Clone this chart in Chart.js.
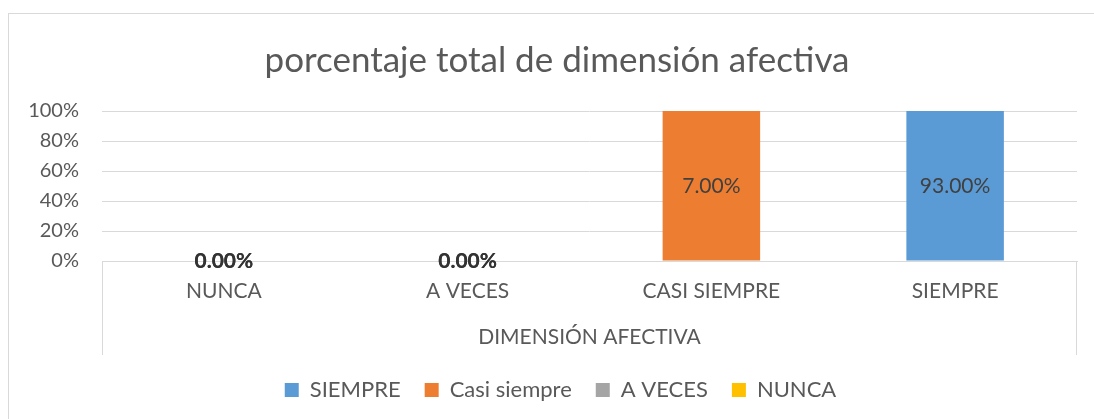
<!DOCTYPE html>
<html>
<head>
<meta charset="utf-8">
<script src="https://cdn.jsdelivr.net/npm/chart.js@4/dist/chart.umd.min.js"></script>
<style>
    html, body { margin: 0; padding: 0; background: #ffffff; overflow: hidden; }
    #wrap { position: relative; width: 1094px; height: 419px; }
    #frame { position: absolute; left: 8px; top: 13px; width: 1100px; height: 420px; border: 1px solid #d9d9d9; }
    #chart { position: absolute; left: 0; top: 0; }
</style>
</head>
<body>
<div id="wrap">
    <div id="frame"></div>
    <canvas id="chart" width="1094" height="419"></canvas>
</div>
<script>
// categories on the x axis
const categories = ['NUNCA', 'A VECES', 'CASI SIEMPRE', 'SIEMPRE'];

// series values (percent), one array per series
const siempreValues = [null, null, null, 93];
const casiSiempreValues = [null, null, 7, null];
const aVecesValues = [0, 0, null, null];
const nuncaValues = [0, 0, null, null];

const seriesNames = ['SIEMPRE', 'Casi siempre', 'A VECES', 'NUNCA'];
const seriesColors = ['#5B9BD5', '#ED7D31', '#A5A5A5', '#FFC000'];

// y axis tick labels
const yTicks = [0, 20, 40, 60, 80, 100];

const chartTitle = 'porcentaje total de dimensión afectiva';
const axisTitle = 'DIMENSIÓN AFECTIVA';

const FONT = 'Lato, "Open Sans", sans-serif';
const TEXT = '#595959';

const rawSeries = [siempreValues, casiSiempreValues, aVecesValues, nuncaValues];

// 100% stacked: each category is scaled to its own total
function toShare(values) {
    return values.map(function (v, i) {
        if (v === null) return null;
        let total = 0;
        rawSeries.forEach(function (s) { total += s[i] || 0; });
        return total > 0 ? v / total * 100 : 0;
    });
}

const datasets = rawSeries.map(function (values, k) {
    return {
        label: seriesNames[k],
        data: toShare(values),
        raw: values,
        backgroundColor: seriesColors[k],
        borderWidth: 0,
        categoryPercentage: 0.4,
        barPercentage: 1.0
    };
});

// title, data labels in the middle of each bar, and the category box sides
const labelPlugin = {
    id: 'barLabels',
    afterLayout(chart) {
        // the legend sits a bit right of centre, like the original
        chart.legend.left += 18;
        chart.legend.right += 18;
    },
    beforeDatasetsDraw(chart) {
        const ctx = chart.ctx;
        const area = chart.chartArea;
        const xs = chart.scales.x;
        ctx.save();
        ctx.strokeStyle = '#d9d9d9';
        ctx.lineWidth = 1;
        ctx.beginPath();
        ctx.moveTo(Math.round(area.left) + 0.5, area.bottom);
        ctx.lineTo(Math.round(area.left) + 0.5, xs.bottom);
        ctx.moveTo(Math.round(area.right) - 0.5, area.bottom);
        ctx.lineTo(Math.round(area.right) - 0.5, xs.bottom);
        ctx.stroke();

        ctx.font = '35px ' + FONT;
        ctx.fillStyle = TEXT;
        ctx.textAlign = 'center';
        ctx.textBaseline = 'middle';
        ctx.fillText(chartTitle, 557, 61);
        ctx.restore();
    },
    afterDatasetsDraw(chart) {
        const ctx = chart.ctx;
        ctx.save();
        ctx.textAlign = 'center';
        ctx.textBaseline = 'middle';
        chart.data.datasets.forEach(function (ds, k) {
            const meta = chart.getDatasetMeta(k);
            meta.data.forEach(function (bar, i) {
                const v = ds.raw[i];
                if (v === null || v === undefined) return;
                ctx.font = (v === 0 ? 'bold ' : '') + '21px ' + FONT;
                ctx.fillStyle = v === 0 ? '#333333' : '#404040';
                ctx.fillText(v.toFixed(2) + '%', bar.x, (bar.y + bar.base) / 2);
            });
        });
        ctx.restore();
    }
};

const ctx = document.getElementById('chart').getContext('2d');
const chart = new Chart(ctx, {
    type: 'bar',
    data: {
        labels: categories,
        datasets: datasets
    },
    options: {
        responsive: false,
        animation: false,
        layout: { padding: { top: 111, left: 8, right: 17, bottom: 8 } },
        plugins: {
            title: { display: false },
            legend: {
                position: 'bottom',
                labels: {
                    color: TEXT,
                    font: { family: FONT, size: 22 },
                    boxWidth: 14,
                    boxHeight: 14,
                    padding: 24
                }
            },
            tooltip: { enabled: false }
        },
        scales: {
            x: {
                stacked: true,
                grid: { display: false, drawTicks: false },
                border: { display: true, color: '#d9d9d9', width: 1 },
                ticks: {
                    color: TEXT,
                    font: { family: FONT, size: 21 },
                    padding: 18,
                    maxRotation: 0
                },
                title: {
                    display: true,
                    text: axisTitle,
                    color: TEXT,
                    font: { family: FONT, size: 21 },
                    padding: { top: 0, bottom: 5 }
                },
                afterFit(scale) { scale.height = 94; }
            },
            y: {
                stacked: true,
                min: 0,
                max: 100,
                afterBuildTicks(scale) {
                    scale.ticks = yTicks.map(function (v) { return { value: v }; });
                },
                grid: { color: '#d9d9d9', lineWidth: 1, drawTicks: false },
                border: { display: false },
                ticks: {
                    color: TEXT,
                    font: { family: FONT, size: 20 },
                    padding: 23,
                    callback: function (v) { return v + '%'; }
                },
                afterFit(scale) { scale.width = 94; }
            }
        }
    },
    plugins: [labelPlugin]
});
</script>
</body>
</html>
